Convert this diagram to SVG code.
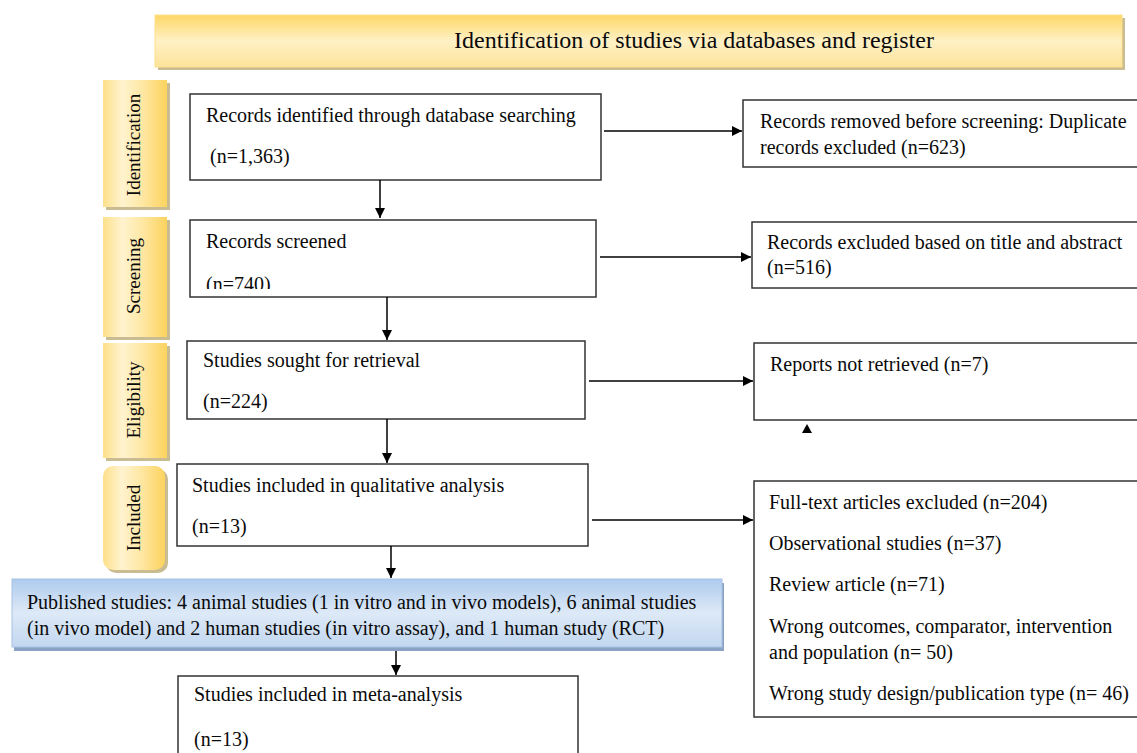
<svg xmlns="http://www.w3.org/2000/svg" width="1137" height="753" viewBox="0 0 1137 753">
<defs>
<linearGradient id="gTitle" x1="0" y1="0" x2="0" y2="1">
<stop offset="0" stop-color="#fdd766"/>
<stop offset="0.5" stop-color="#fff1c6"/>
<stop offset="1" stop-color="#fde39a"/>
</linearGradient>
<linearGradient id="gSide" x1="0" y1="0" x2="1" y2="0">
<stop offset="0" stop-color="#fde08a"/>
<stop offset="0.3" stop-color="#fff3cf"/>
<stop offset="0.6" stop-color="#fee8a6"/>
<stop offset="1" stop-color="#fcd35e"/>
</linearGradient>
<linearGradient id="gBlue" x1="0" y1="0" x2="0" y2="1">
<stop offset="0" stop-color="#aecbed"/>
<stop offset="0.5" stop-color="#dde9f7"/>
<stop offset="1" stop-color="#c2d7ef"/>
</linearGradient>
<marker id="ah" viewBox="0 0 10 10" refX="10" refY="5" markerWidth="10" markerHeight="10" markerUnits="userSpaceOnUse" orient="auto">
<path d="M0,0 L10,5 L0,10 Z" fill="#000"/>
</marker>
<clipPath id="clip740"><rect x="190" y="220" width="406" height="69"/></clipPath>
</defs>
<style>
.box{fill:#fff;stroke:#333;stroke-width:1.5}
.t{font-family:"Liberation Serif","Times New Roman",serif;font-size:20px;fill:#0a0a0a}
.side{fill:url(#gSide)}
.shadow{fill:#c9bb92}
.conn{stroke:#000;stroke-width:1.5;fill:none;marker-end:url(#ah)}
</style>
<rect width="1137" height="753" fill="#fff"/>

<g id="title">
<rect x="158" y="18" width="967" height="52" class="shadow"/>
<rect x="155" y="15" width="967" height="52" fill="url(#gTitle)" stroke="#fde08a" stroke-width="1"/>
<text x="694" y="48" text-anchor="middle" class="t" style="font-size:24px">Identification of studies via databases and register</text>
</g>

<g id="lbl-identification">
<rect x="106" y="83" width="64" height="127" class="shadow"/>
<rect x="103" y="80" width="64" height="127" class="side"/>
<text transform="translate(140,145) rotate(-90)" text-anchor="middle" class="t" style="font-size:19px">Identification</text>
</g>
<g id="lbl-screening">
<rect x="106" y="220" width="64" height="120" class="shadow"/>
<rect x="103" y="217" width="64" height="120" class="side"/>
<text transform="translate(140,276) rotate(-90)" text-anchor="middle" class="t" style="font-size:19px">Screening</text>
</g>
<g id="lbl-eligibility">
<rect x="106" y="346" width="64" height="115" class="shadow"/>
<rect x="103" y="343" width="64" height="115" class="side"/>
<text transform="translate(140,400) rotate(-90)" text-anchor="middle" class="t" style="font-size:19px">Eligibility</text>
</g>
<g id="lbl-included">
<rect x="106" y="469" width="62" height="104" rx="10" class="shadow"/>
<rect x="103" y="466" width="62" height="104" rx="10" class="side"/>
<text transform="translate(140,518) rotate(-90)" text-anchor="middle" class="t" style="font-size:19px">Included</text>
</g>

<g id="n-identified">
<rect x="190" y="94" width="411" height="86" class="box"/>
<text x="206" y="122" class="t">Records identified through database searching</text>
<text x="210" y="163" class="t">(n=1,363)</text>
</g>
<g id="n-screened">
<rect x="190" y="220" width="406" height="77" class="box"/>
<text x="206" y="248" class="t">Records screened</text>
<text x="206" y="291" class="t" clip-path="url(#clip740)">(n=740)</text>
</g>
<g id="n-sought">
<rect x="187" y="341" width="398" height="78" class="box"/>
<text x="203" y="367" class="t">Studies sought for retrieval</text>
<text x="203" y="408" class="t">(n=224)</text>
</g>
<g id="n-qualitative">
<rect x="177" y="464" width="411" height="82" class="box"/>
<text x="192" y="492" class="t">Studies included in qualitative analysis</text>
<text x="192" y="533" class="t">(n=13)</text>
</g>
<g id="n-published">
<rect x="14" y="583" width="710" height="68" fill="#8aa3c4"/>
<rect x="12" y="579" width="710" height="68" fill="url(#gBlue)" stroke="#a6c2e4" stroke-width="1"/>
<text x="27" y="609" class="t">Published studies: 4 animal studies (1 in vitro and in vivo models), 6 animal studies</text>
<text x="27" y="635" class="t">(in vivo model) and 2 human studies (in vitro assay), and 1 human study (RCT)</text>
</g>
<g id="n-meta">
<rect x="178" y="676" width="400" height="90" class="box"/>
<text x="194" y="701" class="t">Studies included in meta-analysis</text>
<text x="194" y="746" class="t">(n=13)</text>
</g>

<g id="n-removed">
<rect x="743" y="100" width="400" height="67" class="box"/>
<text x="760" y="128" class="t">Records removed before screening: Duplicate</text>
<text x="760" y="154" class="t">records excluded (n=623)</text>
</g>
<g id="n-excluded">
<rect x="752" y="222" width="391" height="66" class="box"/>
<text x="767" y="249" class="t">Records excluded based on title and abstract</text>
<text x="767" y="274" class="t">(n=516)</text>
</g>
<g id="n-notretrieved">
<rect x="754" y="343" width="389" height="77" class="box"/>
<text x="770" y="371" class="t">Reports not retrieved (n=7)</text>
</g>
<g id="n-fulltext">
<rect x="754" y="481" width="389" height="236" class="box"/>
<text x="769" y="509" class="t">Full-text articles excluded (n=204)</text>
<text x="769" y="550" class="t">Observational studies (n=37)</text>
<text x="769" y="591" class="t">Review article (n=71)</text>
<text x="769" y="633" class="t">Wrong outcomes, comparator, intervention</text>
<text x="769" y="659" class="t">and population (n= 50)</text>
<text x="769" y="700" class="t">Wrong study design/publication type (n= 46)</text>
</g>

<g id="connectors">
<line x1="380" y1="180" x2="380" y2="218" class="conn"/>
<line x1="387" y1="297" x2="387" y2="340" class="conn"/>
<line x1="387" y1="419" x2="387" y2="463" class="conn"/>
<line x1="391" y1="546" x2="391" y2="578" class="conn"/>
<line x1="396" y1="651" x2="396" y2="675" class="conn"/>
<line x1="604" y1="131" x2="742" y2="131" class="conn"/>
<line x1="600" y1="257" x2="751" y2="257" class="conn"/>
<line x1="589" y1="381" x2="753" y2="381" class="conn"/>
<line x1="592" y1="520" x2="753" y2="520" class="conn"/>
<path d="M807,424 L812,433 L802,433 Z" fill="#000"/>
</g>
</svg>
